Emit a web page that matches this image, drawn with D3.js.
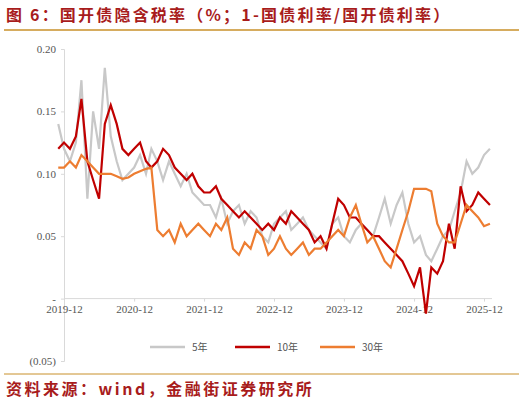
<!DOCTYPE html>
<html><head><meta charset="utf-8">
<script src="https://cdn.jsdelivr.net/npm/d3@7"></script>
<style>body{margin:0;background:#fff}</style>
</head><body>
<svg id="chart" width="523" height="406"></svg>
<script>
// monthly, starting 2019-11
const startMonth = "2019-11";
const y5 = [0.140,0.120,
  0.110,0.125,0.175,0.080,0.150,0.120,0.185,0.130,0.110,0.095,0.100,0.105,
  0.115,0.100,0.120,0.110,0.095,0.110,0.100,0.090,0.100,0.085,0.080,0.075,
  0.075,0.065,0.080,0.060,0.070,0.075,0.060,0.070,0.065,0.050,0.045,0.060,
  0.065,0.070,0.055,0.060,0.065,0.055,0.050,0.045,0.040,0.060,0.065,0.050,
  0.045,0.055,0.060,0.055,0.050,0.065,0.080,0.060,0.075,0.085,0.060,0.045,
  0.050,0.035,0.030,0.040,0.050,0.055,0.070,0.085,0.110,0.100,0.105,0.115,
  0.120];
const y10 = [0.120,0.125,
  0.120,0.130,0.160,0.110,0.095,0.080,0.140,0.155,0.140,0.120,0.115,0.120,
  0.125,0.110,0.105,0.110,0.120,0.115,0.105,0.100,0.095,0.100,0.090,0.085,
  0.085,0.090,0.080,0.075,0.070,0.065,0.070,0.065,0.060,0.055,0.060,0.055,
  0.065,0.060,0.070,0.065,0.060,0.055,0.045,0.050,0.040,0.060,0.080,0.075,
  0.065,0.065,0.060,0.055,0.050,0.050,0.045,0.040,0.035,0.030,0.020,0.010,
  0.025,-0.012,0.025,0.020,0.030,0.060,0.040,0.090,0.070,0.075,0.085,0.080,
  0.075];
const y30 = [0.105,0.105,
  0.110,0.105,0.115,0.110,0.105,0.100,0.100,0.100,0.098,0.096,0.097,0.100,
  0.102,0.104,0.105,0.055,0.050,0.055,0.045,0.060,0.050,0.055,0.060,0.055,
  0.050,0.060,0.055,0.065,0.040,0.035,0.045,0.040,0.055,0.050,0.035,0.040,
  0.050,0.040,0.035,0.040,0.045,0.035,0.040,0.040,0.045,0.050,0.055,0.050,
  0.065,0.075,0.060,0.045,0.050,0.040,0.030,0.025,0.040,0.055,0.070,0.088,
  0.088,0.088,0.086,0.060,0.050,0.045,0.045,0.060,0.075,0.070,0.065,0.058,
  0.060];
const seriesNames = ["5年","10年","30年"];
const seriesColors = ["#c8c8c8","#c00000","#ed7d31"];
const xTicks = ["2019-12","2020-12","2021-12","2022-12","2023-12","2024-12","2025-12"];
const yTicks = [-0.05,0,0.05,0.10,0.15,0.20];

const svg = d3.select("#chart");
const parse = d3.timeParse("%Y-%m");
const t0 = parse(startMonth);
const dates = y5.map((d,i) => d3.timeMonth.offset(t0, i));

const x = d3.scaleTime().domain([parse("2019-12"), parse("2025-12")]).range([64, 484]);
const y = d3.scaleLinear().domain([-0.05, 0.20]).range([361, 49]);

// title
svg.append("text").attr("x", 6).attr("y", 21)
  .attr("font-family", "Noto Sans CJK SC").attr("font-weight", "bold")
  .attr("font-size", 16).attr("letter-spacing", 2.2).attr("fill", "#a81c1c")
  .text("图 6：国开债隐含税率（%；1-国债利率/国开债利率）");
svg.append("line").attr("x1", 4).attr("x2", 519).attr("y1", 30).attr("y2", 30)
  .attr("stroke", "#c8902a").attr("stroke-width", 1.5);

// y axis
const fmt = v => v === 0 ? "-" : v < 0 ? "(" + Math.abs(v).toFixed(2) + ")" : v.toFixed(2);
svg.append("g").attr("transform", "translate(64,0)")
  .call(d3.axisLeft(y).tickValues(yTicks).tickFormat(fmt).tickSize(3).tickPadding(5))
  .call(g => g.selectAll("line,path").attr("stroke", "#d9d9d9"))
  .call(g => g.selectAll("text").attr("fill", "#555").attr("font-size", 11)
    .attr("font-family", "Liberation Serif"));

// x axis at zero
svg.append("g").attr("transform", `translate(0,${y(0)})`)
  .call(d3.axisBottom(x).tickValues(xTicks.map(parse)).tickFormat(d3.timeFormat("%Y-%m"))
    .tickSize(3).tickSizeOuter(0).tickPadding(4))
  .call(g => g.select("path").attr("d", `M64,0H492`))
  .call(g => g.selectAll("line,path").attr("stroke", "#d9d9d9"))
  .call(g => g.selectAll("text").attr("fill", "#555").attr("font-size", 11)
    .attr("font-family", "Liberation Serif"));

const line = d3.line().x((d,i) => x(dates[i])).y(d => y(d));
[y5, y10, y30].forEach((s, k) => {
  svg.append("path").datum(s).attr("d", line).attr("fill", "none")
    .attr("stroke", seriesColors[k]).attr("stroke-width", 2.2);
});

// legend
const lx = [150, 235, 320];
seriesNames.forEach((n, k) => {
  svg.append("line").attr("x1", lx[k]).attr("x2", lx[k] + 35).attr("y1", 347).attr("y2", 347)
    .attr("stroke", seriesColors[k]).attr("stroke-width", 2.5);
  svg.append("text").attr("x", lx[k] + 42).attr("y", 351).text(n)
    .attr("font-size", 10).attr("fill", "#555").attr("font-family", "Noto Sans CJK SC");
});

svg.append("line").attr("x1", 4).attr("x2", 519).attr("y1", 374).attr("y2", 374)
  .attr("stroke", "#c8902a").attr("stroke-width", 1);
svg.append("text").attr("x", 6).attr("y", 395)
  .attr("font-family", "Noto Sans CJK SC").attr("font-weight", "bold")
  .attr("font-size", 16).attr("letter-spacing", 2.5).attr("fill", "#a81c1c")
  .text("资料来源：wind，金融街证券研究所");
</script>
</body></html>
